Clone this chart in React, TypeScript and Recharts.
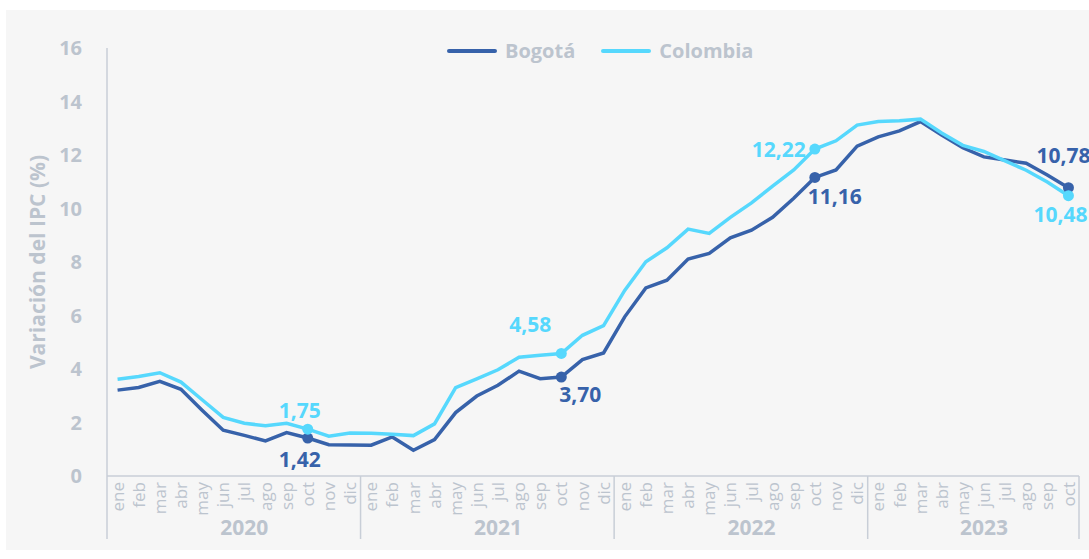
import { Label, LabelList, Line, LineChart, XAxis, YAxis } from "recharts";

const months = ["ene", "feb", "mar", "abr", "may", "jun", "jul", "ago", "sep", "oct", "nov", "dic"];
const years = ["2020", "2021", "2022", "2023"];

const bogota = [
  3.21, 3.31, 3.54, 3.24, 2.46, 1.71, 1.52, 1.31, 1.62, 1.42, 1.17, 1.16,
  1.15, 1.46, 0.96, 1.36, 2.37, 2.99, 3.39, 3.92, 3.64, 3.7, 4.35, 4.6,
  5.95, 7.03, 7.32, 8.11, 8.32, 8.9, 9.19, 9.67, 10.38, 11.16, 11.44, 12.33,
  12.68, 12.9, 13.25, 12.75, 12.27, 11.93, 11.81, 11.69, 11.25, 10.78,
];
const colombia = [
  3.62, 3.72, 3.86, 3.51, 2.85, 2.19, 1.97, 1.88, 1.97, 1.75, 1.49, 1.61,
  1.6, 1.56, 1.51, 1.95, 3.3, 3.63, 3.97, 4.44, 4.51, 4.58, 5.26, 5.62,
  6.94, 8.01, 8.53, 9.23, 9.07, 9.67, 10.21, 10.84, 11.44, 12.22, 12.53, 13.12,
  13.25, 13.28, 13.34, 12.82, 12.36, 12.13, 11.78, 11.43, 10.99, 10.48,
];
const yTicks = [0, 2, 4, 6, 8, 10, 12, 14, 16];
// months where the year label sits
const yearLabelAt = [6, 18, 30, 41];
const highlighted = [9, 21, 33, 45];

const DARK = "#3762aa";
const CYAN = "#56d8fd";
const GREY = "#bcc4ce";
const AXIS = "#c8ced7";
const FONT = "'Open Sans', Lato, sans-serif";

const W = 1089;
const H = 559;
const PLOT_LEFT = 107;
const PLOT_RIGHT = 1079;
const PLOT_BOTTOM = 476;
const BAND = (PLOT_RIGHT - PLOT_LEFT) / bogota.length;

const data = bogota.map((b, i) => ({
  key: `${months[i % 12]}-${years[Math.floor(i / 12)]}`,
  month: months[i % 12],
  bogota: b,
  colombia: colombia[i],
}));

// label placement around highlighted points: [dx, dy, anchor]
const colombiaLabelPos: Record<number, [number, number, string]> = {
  9: [-8, -19, "middle"],
  21: [-31, -29, "middle"],
  33: [-9, 0, "end"],
  45: [-35, 18, "start"],
};
const bogotaLabelPos: Record<number, [number, number, string]> = {
  9: [-8, 21, "middle"],
  21: [19, 17, "middle"],
  33: [20, 19, "middle"],
  45: [-32, -33, "start"],
};

const fmt = (v: number) => v.toFixed(2).replace(".", ",");

function MonthTick(props: any) {
  const { x, index } = props;
  const i = index as number;
  const month = months[i % 12];
  const year = years[Math.floor(i / 12)];
  return (
    <g>
      <text
        x={x}
        y={PLOT_BOTTOM + 6}
        transform={`rotate(-90 ${x} ${PLOT_BOTTOM + 6})`}
        textAnchor="end"
        dy="0.36em"
        fill={GREY}
        fontSize={17}
        fontFamily={FONT}
      >
        {month}
      </text>
      {month === "ene" && (
        <line x1={x - BAND / 2} x2={x - BAND / 2} y1={PLOT_BOTTOM} y2={539} stroke={AXIS} strokeWidth={1.5} />
      )}
      {i === bogota.length - 1 && (
        <line x1={x + BAND / 2} x2={x + BAND / 2} y1={PLOT_BOTTOM} y2={539} stroke={AXIS} strokeWidth={1.5} />
      )}
      {yearLabelAt.includes(i) && (
        <text x={x} y={527} textAnchor="middle" dominantBaseline="central" fill={GREY} fontSize={21} fontWeight={700} fontFamily={FONT}>
          {year}
        </text>
      )}
    </g>
  );
}

function makeDot(color: string) {
  return (props: any) => {
    const { cx, cy, index } = props;
    if (!highlighted.includes(index)) return <g key={`d-${index}`} />;
    return <circle key={`d-${index}`} cx={cx} cy={cy} r={5.5} fill={color} />;
  };
}

function makeLabel(color: string, pos: Record<number, [number, number, string]>) {
  return (props: any) => {
    const { x, y, value, index } = props;
    const p = pos[index];
    if (!p) return null;
    return (
      <text
        x={x + p[0]}
        y={y + p[1]}
        textAnchor={p[2] as any}
        dominantBaseline="central"
        fill={color}
        fontSize={21}
        fontWeight={700}
        fontFamily={FONT}
      >
        {fmt(value)}
      </text>
    );
  };
}

function LegendItem({ color, text }: { color: string; text: string }) {
  return (
    <div style={{ display: "flex", alignItems: "center", marginRight: 26 }}>
      <div style={{ width: 50, height: 4, borderRadius: 2, background: color, marginRight: 8 }} />
      <span style={{ color: GREY, fontSize: 20, fontWeight: 700, fontFamily: FONT }}>{text}</span>
    </div>
  );
}

export default function App() {
  return (
    <div style={{ position: "absolute", left: 0, top: 0, width: W, height: H, background: "#fff", overflow: "hidden" }}>
      <div style={{ position: "absolute", left: 6, top: 10, width: W - 6, height: 540, background: "#f6f6f6" }} />
      <div style={{ position: "absolute", left: 447, top: 37, display: "flex" }}>
        <LegendItem color={DARK} text="Bogotá" />
        <LegendItem color={CYAN} text="Colombia" />
      </div>
      <div style={{ position: "absolute", left: 0, top: 0 }}>
        <LineChart width={W} height={H} data={data} margin={{ top: 48, right: W - PLOT_RIGHT, bottom: 13, left: 0 }} style={{ fontFamily: FONT }}>
          <XAxis
            dataKey="key"
            interval={0}
            height={70}
            padding={{ left: BAND / 2, right: BAND / 2 }}
            axisLine={{ stroke: AXIS, strokeWidth: 1.5 }}
            tickLine={false}
            tick={(p: any) => <MonthTick {...p} />}
          />
          <YAxis
            width={PLOT_LEFT}
            domain={[0, 16]}
            ticks={yTicks}
            axisLine={{ stroke: AXIS, strokeWidth: 1.5 }}
            tickLine={false}
            tickMargin={19}
            tick={{ fill: GREY, fontSize: 20, fontWeight: 700, fontFamily: FONT }}
          >
            <Label
              content={(p: any) => {
                const vb = p.viewBox || { y: 48, height: 428 };
                const cy = vb.y + vb.height / 2;
                return (
                  <text
                    x={37}
                    y={cy}
                    transform={`rotate(-90 37 ${cy})`}
                    textAnchor="middle"
                    dominantBaseline="central"
                    fill={GREY}
                    fontSize={21}
                    fontWeight={700}
                    fontFamily={FONT}
                  >
                    Variación del IPC (%)
                  </text>
                );
              }}
            />
          </YAxis>
          <Line dataKey="bogota" name="Bogotá" stroke={DARK} strokeWidth={3.5} dot={makeDot(DARK)} activeDot={false} isAnimationActive={false}>
            <LabelList dataKey="bogota" content={makeLabel(DARK, bogotaLabelPos)} />
          </Line>
          <Line dataKey="colombia" name="Colombia" stroke={CYAN} strokeWidth={3.5} dot={makeDot(CYAN)} activeDot={false} isAnimationActive={false}>
            <LabelList dataKey="colombia" content={makeLabel(CYAN, colombiaLabelPos)} />
          </Line>
        </LineChart>
      </div>
    </div>
  );
}
